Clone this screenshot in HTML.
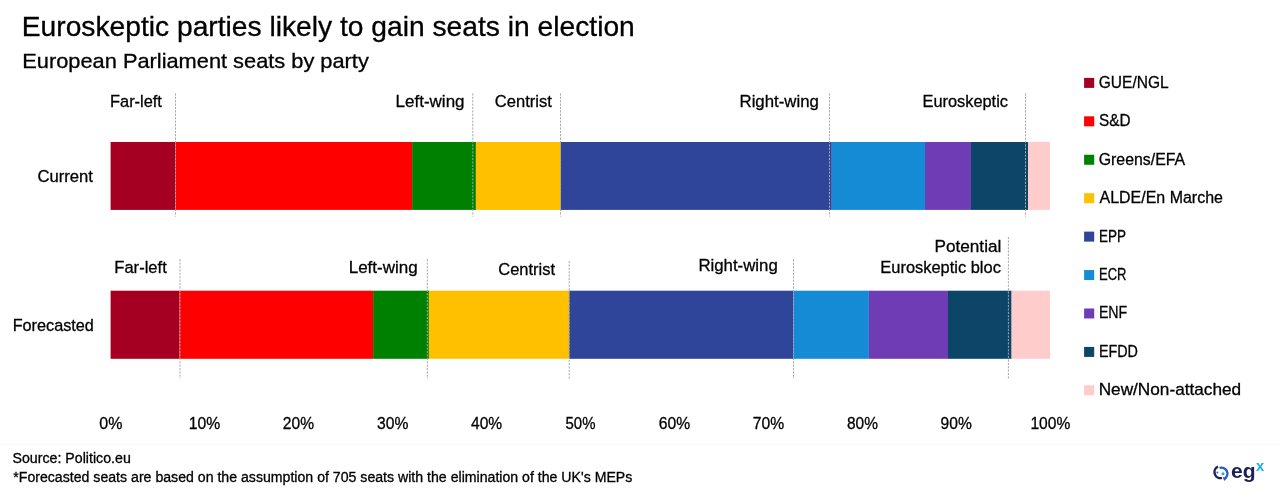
<!DOCTYPE html>
<html><head><meta charset="utf-8"><style>
html,body{margin:0;padding:0;background:#fff;width:1280px;height:498px;overflow:hidden}
svg{display:block;will-change:transform}
text{font-family:"Liberation Sans",sans-serif;fill:#000;stroke:#000;stroke-width:0.3px}
.d{stroke:#a6a6a6;stroke-width:1;stroke-dasharray:2.1 1.3}
</style></head><body>
<svg width="1280" height="498" viewBox="0 0 1280 498">
<rect x="0" y="444" width="1280" height="1" fill="#fbfbfb"/>
<rect x="110.60" y="142.0" width="64.90" height="67.9" fill="#A50021"/>
<rect x="175.50" y="142.0" width="236.60" height="67.9" fill="#FF0000"/>
<rect x="412.10" y="142.0" width="63.80" height="67.9" fill="#008000"/>
<rect x="475.90" y="142.0" width="84.90" height="67.9" fill="#FFC000"/>
<rect x="560.80" y="142.0" width="271.00" height="67.9" fill="#2E4599"/>
<rect x="831.80" y="142.0" width="93.20" height="67.9" fill="#158BD6"/>
<rect x="925.00" y="142.0" width="46.00" height="67.9" fill="#703CB6"/>
<rect x="971.00" y="142.0" width="57.00" height="67.9" fill="#0C4567"/>
<rect x="1028.00" y="142.0" width="22.00" height="67.9" fill="#FFCCCC"/>
<rect x="110.60" y="290.7" width="68.80" height="68.10000000000002" fill="#A50021"/>
<rect x="179.40" y="290.7" width="193.70" height="68.10000000000002" fill="#FF0000"/>
<rect x="373.10" y="290.7" width="55.80" height="68.10000000000002" fill="#008000"/>
<rect x="428.90" y="290.7" width="140.30" height="68.10000000000002" fill="#FFC000"/>
<rect x="569.20" y="290.7" width="224.30" height="68.10000000000002" fill="#2E4599"/>
<rect x="793.50" y="290.7" width="75.40" height="68.10000000000002" fill="#158BD6"/>
<rect x="868.90" y="290.7" width="79.10" height="68.10000000000002" fill="#703CB6"/>
<rect x="948.00" y="290.7" width="63.60" height="68.10000000000002" fill="#0C4567"/>
<rect x="1011.60" y="290.7" width="38.40" height="68.10000000000002" fill="#FFCCCC"/>
<line x1="175.5" y1="93.4" x2="175.5" y2="216.6" class="d"/>
<line x1="472.8" y1="93.4" x2="472.8" y2="216.6" class="d"/>
<line x1="560.5" y1="93.4" x2="560.5" y2="216.6" class="d"/>
<line x1="829.5" y1="93.4" x2="829.5" y2="216.6" class="d"/>
<line x1="1025.5" y1="93.4" x2="1025.5" y2="216.6" class="d"/>
<line x1="180.0" y1="259.2" x2="180.0" y2="378.8" class="d"/>
<line x1="427.3" y1="259.2" x2="427.3" y2="378.8" class="d"/>
<line x1="569.2" y1="261.0" x2="569.2" y2="378.8" class="d"/>
<line x1="793.5" y1="259.3" x2="793.5" y2="378.8" class="d"/>
<line x1="1008.4" y1="237.0" x2="1008.4" y2="378.8" class="d"/>
<rect x="1084.1" y="77.90" width="10.1" height="10" fill="#A50021"/>
<rect x="1084.1" y="116.33" width="10.1" height="10" fill="#FF0000"/>
<rect x="1084.1" y="154.76" width="10.1" height="10" fill="#008000"/>
<rect x="1084.1" y="193.19" width="10.1" height="10" fill="#FFC000"/>
<rect x="1084.1" y="231.62" width="10.1" height="10" fill="#2E4599"/>
<rect x="1084.1" y="270.05" width="10.1" height="10" fill="#158BD6"/>
<rect x="1084.1" y="308.48" width="10.1" height="10" fill="#703CB6"/>
<rect x="1084.1" y="346.91" width="10.1" height="10" fill="#0C4567"/>
<rect x="1084.1" y="385.34" width="10.1" height="10" fill="#FFCCCC"/>
<text x="21.80" y="36.00" font-size="27.02" textLength="612.99" lengthAdjust="spacingAndGlyphs">Euroskeptic parties likely to gain seats in election</text>
<text x="22.30" y="67.80" font-size="20.20" textLength="346.50" lengthAdjust="spacingAndGlyphs">European Parliament seats by party</text>
<text x="110.02" y="106.80" font-size="17.07" textLength="51.92" lengthAdjust="spacingAndGlyphs">Far-left</text>
<text x="395.57" y="106.80" font-size="17.07" textLength="68.98" lengthAdjust="spacingAndGlyphs">Left-wing</text>
<text x="494.82" y="106.80" font-size="17.07" textLength="57.02" lengthAdjust="spacingAndGlyphs">Centrist</text>
<text x="739.49" y="106.80" font-size="17.07" textLength="79.46" lengthAdjust="spacingAndGlyphs">Right-wing</text>
<text x="922.47" y="106.80" font-size="17.07" textLength="85.53" lengthAdjust="spacingAndGlyphs">Euroskeptic</text>
<text x="114.31" y="272.60" font-size="17.07" textLength="52.44" lengthAdjust="spacingAndGlyphs">Far-left</text>
<text x="348.67" y="272.60" font-size="17.07" textLength="69.09" lengthAdjust="spacingAndGlyphs">Left-wing</text>
<text x="498.23" y="274.60" font-size="17.07" textLength="56.82" lengthAdjust="spacingAndGlyphs">Centrist</text>
<text x="698.39" y="271.30" font-size="17.07" textLength="79.36" lengthAdjust="spacingAndGlyphs">Right-wing</text>
<text x="934.46" y="251.60" font-size="17.07" textLength="66.88" lengthAdjust="spacingAndGlyphs">Potential</text>
<text x="880.32" y="273.40" font-size="17.07" textLength="120.54" lengthAdjust="spacingAndGlyphs">Euroskeptic bloc</text>
<text x="37.42" y="181.50" font-size="17.07" textLength="55.52" lengthAdjust="spacingAndGlyphs">Current</text>
<text x="12.63" y="330.80" font-size="17.07" textLength="81.28" lengthAdjust="spacingAndGlyphs">Forecasted</text>
<text x="99.25" y="429.00" font-size="16.78" textLength="23.13" lengthAdjust="spacingAndGlyphs">0%</text>
<text x="188.82" y="429.00" font-size="16.78" textLength="31.45" lengthAdjust="spacingAndGlyphs">10%</text>
<text x="282.87" y="429.00" font-size="16.78" textLength="31.19" lengthAdjust="spacingAndGlyphs">20%</text>
<text x="377.01" y="429.00" font-size="16.78" textLength="31.36" lengthAdjust="spacingAndGlyphs">30%</text>
<text x="471.06" y="429.00" font-size="16.78" textLength="31.11" lengthAdjust="spacingAndGlyphs">40%</text>
<text x="565.53" y="429.00" font-size="16.78" textLength="29.91" lengthAdjust="spacingAndGlyphs">50%</text>
<text x="658.84" y="429.00" font-size="16.78" textLength="31.40" lengthAdjust="spacingAndGlyphs">60%</text>
<text x="752.82" y="429.00" font-size="16.78" textLength="31.40" lengthAdjust="spacingAndGlyphs">70%</text>
<text x="847.02" y="429.00" font-size="16.78" textLength="30.94" lengthAdjust="spacingAndGlyphs">80%</text>
<text x="940.57" y="429.00" font-size="16.78" textLength="31.19" lengthAdjust="spacingAndGlyphs">90%</text>
<text x="1030.43" y="429.00" font-size="16.78" textLength="39.84" lengthAdjust="spacingAndGlyphs">100%</text>
<text x="1098.77" y="88.00" font-size="16.36" textLength="69.91" lengthAdjust="spacingAndGlyphs">GUE/NGL</text>
<text x="1099.02" y="126.40" font-size="16.36" textLength="31.51" lengthAdjust="spacingAndGlyphs">S&amp;D</text>
<text x="1098.76" y="164.80" font-size="16.36" textLength="86.37" lengthAdjust="spacingAndGlyphs">Greens/EFA</text>
<text x="1099.50" y="203.20" font-size="16.36" textLength="123.45" lengthAdjust="spacingAndGlyphs">ALDE/En Marche</text>
<text x="1098.94" y="241.60" font-size="16.36" textLength="27.02" lengthAdjust="spacingAndGlyphs">EPP</text>
<text x="1098.98" y="280.00" font-size="16.36" textLength="27.47" lengthAdjust="spacingAndGlyphs">ECR</text>
<text x="1098.89" y="318.40" font-size="16.36" textLength="28.37" lengthAdjust="spacingAndGlyphs">ENF</text>
<text x="1098.88" y="356.80" font-size="16.36" textLength="39.12" lengthAdjust="spacingAndGlyphs">EFDD</text>
<text x="1098.66" y="395.20" font-size="16.36" textLength="142.51" lengthAdjust="spacingAndGlyphs">New/Non-attached</text>
<text x="12.46" y="462.90" font-size="14.08" textLength="118.34" lengthAdjust="spacingAndGlyphs">Source: Politico.eu</text>
<text x="13.28" y="481.50" font-size="14.08" textLength="619.06" lengthAdjust="spacingAndGlyphs">*Forecasted seats are based on the assumption of 705 seats with the elimination of the UK's MEPs</text>
<g id="logo">
<path d="M1217.96 466.66 A6.0 6.0 0 0 0 1221.95 477.92" fill="none" stroke="#1B2057" stroke-width="2.4"/>
<path d="M1219.55 467.89 A6.0 6.0 0 0 1 1225.09 478.33" fill="none" stroke="#2D5BC4" stroke-width="2.4"/>
<path d="M1222.6 477.0 L1227.0 477.9 L1224.3 481.0 Z" fill="#2D5BC4"/>
<circle cx="1217.4" cy="472.6" r="1.0" fill="#1A6FD0"/>
<circle cx="1223.0" cy="473.8" r="1.5" fill="#1EA7F0"/>
<text x="1231.0" y="477.9" font-size="20.5" font-weight="bold" style="fill:#1B2057;stroke:none" textLength="24.6" lengthAdjust="spacingAndGlyphs">eg</text>
<text x="1255.9" y="470.8" font-size="15" font-weight="bold" style="fill:#1EA7F0;stroke:none" textLength="8.2" lengthAdjust="spacingAndGlyphs">x</text>
</g>
</svg>
</body></html>
